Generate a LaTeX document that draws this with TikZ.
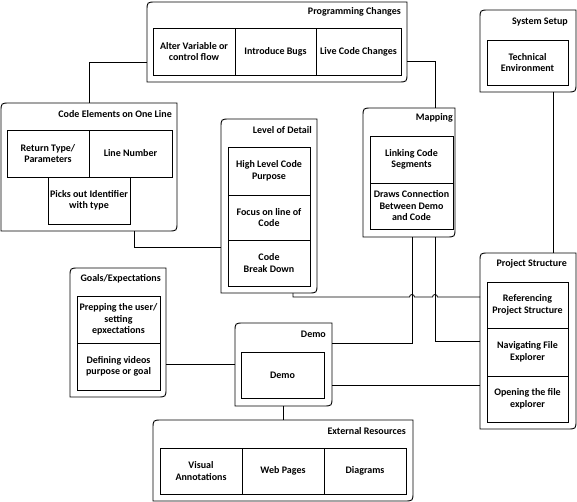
\documentclass[tikz,border=0pt]{standalone}
\usepackage{fontspec}
\setmainfont{Carlito}
\usetikzlibrary{positioning, calc}

\tikzset{
    grp/.style={draw=none, inner sep=0pt, outer sep=0pt},
    grpline/.style={draw, line width=0.9pt},
    grptitle/.style={anchor=east, inner sep=0pt, font=\bfseries\fontsize{10}{11.5}\selectfont},
    item/.style={draw, line width=0.8pt, minimum width=82, minimum height=47, inner sep=1pt, outer sep=0pt, align=center, font=\bfseries\fontsize{10}{11.5}\selectfont},
    link/.style={draw, line width=0.8pt}
}

% outline: rounded top left and bottom right corners
\newcommand{\grpshape}[1]{%
    \draw[grpline] (#1.south west) -- ($(#1.north west)+(0,9)$) .. controls (#1.north west) .. ($(#1.north west)+(9,0)$)
        -- (#1.north east) -- ($(#1.south east)+(0,-9)$) .. controls (#1.south east) .. ($(#1.south east)+(-9,0)$) -- cycle;}

\begin{document}
\begin{tikzpicture}[x=1pt, y=-1pt]
    \useasboundingbox (0,0) rectangle (577,502);

    % Containers
    \node[grp, minimum width=260, minimum height=80] (prog) at (277,42) {};
    \node[grp, minimum width=96, minimum height=82] (sys) at (528,51) {};
    \node[grp, minimum width=176, minimum height=128] (codeel) at (89,167) {};
    \node[grp, minimum width=96, minimum height=174] (lod) at (269,206) {};
    \node[grp, minimum width=92, minimum height=129] (mapping) at (409,172.5) {};
    \node[grp, minimum width=96, minimum height=129] (goals) at (118,332.5) {};
    \node[grp, minimum width=97, minimum height=83] (demo) at (283.5,364.5) {};
    \node[grp, minimum width=260, minimum height=81] (ext) at (283,460.5) {};
    \node[grp, minimum width=96, minimum height=176] (proj) at (528,341) {};

    \grpshape{prog} \grpshape{sys} \grpshape{codeel} \grpshape{lod} \grpshape{mapping}
    \grpshape{goals} \grpshape{demo} \grpshape{ext} \grpshape{proj}

    % Titles
    \node[grptitle] (progT) at ($(prog.north east)+(-6,10)$) {Programming Changes};
    \node[grptitle] (sysT) at ($(sys.north east)+(-8,12)$) {System Setup};
    \node[grptitle] (codeelT) at ($(codeel.north east)+(-5,11)$) {Code Elements on One Line};
    \node[grptitle] (lodT) at ($(lod.north east)+(-5,11)$) {Level of Detail};
    \node[grptitle] (mappingT) at ($(mapping.north east)+(-2,10)$) {Mapping};
    \node[grptitle] (goalsT) at ($(goals.north east)+(-5,11)$) {Goals/Expectations};
    \node[grptitle] (demoT) at ($(demo.north east)+(-6,11)$) {Demo};
    \node[grptitle] (extT) at ($(ext.north east)+(-7,11)$) {External Resources};
    \node[grptitle] (projT) at ($(proj.north east)+(-9,11)$) {Project Structure};

    % Items
    \node[item] (alter) at (194,51.5) {Alter Variable or\\control flow};
    \node[item, minimum width=81, right=0pt of alter] (bugs) {Introduce Bugs};
    \node[item, minimum width=85, right=0pt of bugs] (live) {Live Code Changes};

    \node[item, minimum width=81, minimum height=45] (tech) at (527.5,62.5) {Technical\\Environment};

    \node[item] (ret) at (48,153.5) {Return Type/\\Parameters};
    \node[item, minimum width=83, right=0pt of ret] (lineno) {Line Number};
    \node[item] (ident) at (89,200.5) {Picks out Identifier\\with type};

    \node[item, minimum height=48] (high) at (269,171) {High Level Code\\Purpose};
    \node[item, minimum height=45, below=0pt of high] (focus) {Focus on line of\\Code};
    \node[item, minimum height=46, below=0pt of focus] (brk) {Code\\Break Down};

    \node[item, minimum width=83] (linking) at (411.5,159.5) {Linking Code\\Segments};
    \node[item, minimum width=83, minimum height=46, below=0pt of linking] (draws) {Draws Connection\\Between Demo\\and Code};

    \node[item, minimum width=83] (prep) at (118.5,319.5) {Prepping the user/\\setting\\epxectations};
    \node[item, minimum width=83, below=0pt of prep] (defining) {Defining videos\\purpose or goal};

    \node[item, minimum width=83, minimum height=46] (demoI) at (282.5,375) {Demo};

    \node[item, minimum height=46] (visual) at (201,471) {Visual\\Annotations};
    \node[item, minimum height=46, right=0pt of visual] (web) {Web Pages};
    \node[item, minimum height=46, right=0pt of web] (diag) {Diagrams};

    \node[item, minimum width=81, minimum height=46] (refer) at (527.5,305) {Referencing\\Project Structure};
    \node[item, minimum width=81, minimum height=48, below=0pt of refer] (navig) {Navigating File\\Explorer};
    \node[item, minimum width=81, minimum height=46, below=0pt of navig] (opening) {Opening the file\\explorer};

    % Connection points
    \coordinate (mapA) at ($(mapping.south west)+(49,0)$);
    \coordinate (mapB) at ($(mapping.south west)+(72,0)$);
    \coordinate (lodout) at ($(lod.south east)+(-24,0)$);
    \coordinate (projin) at ($(proj.north west)+(0,44)$);

    % Links
    \draw[link] ($(prog.south west)+(0,-20)$) -| (codeel.north);
    \draw[link] ($(prog.south east)+(0,-21)$) -| ($(mapping.north west)+(72,0)$);
    \draw[link] ($(codeel.south east)+(-43,0)$) |- ($(lod.south west)+(0,-46)$);
    \draw[link] ($(sys.south east)+(-23,0)$) -- ($(proj.north east)+(-23,0)$);
    \draw[link] (lodout) |- ($(mapA |- projin)+(-2.5,0)$) arc(180:360:2.5)
        -- ($(mapB |- projin)+(-2.5,0)$) arc(180:360:2.5) -- (projin);
    \draw[link] (mapA) |- ($(demo.north east)+(0,20)$);
    \draw[link] (mapB) |- (proj.west);
    \draw[link] ($(demo.south east)+(0,-21)$) -- ($(proj.south west)+(0,-44)$);
    \draw[link] (demo.west) -- (demo.west -| goals.east);
    \draw[link] (demo.south) -- (demo.south |- ext.north);
\end{tikzpicture}
\end{document}
